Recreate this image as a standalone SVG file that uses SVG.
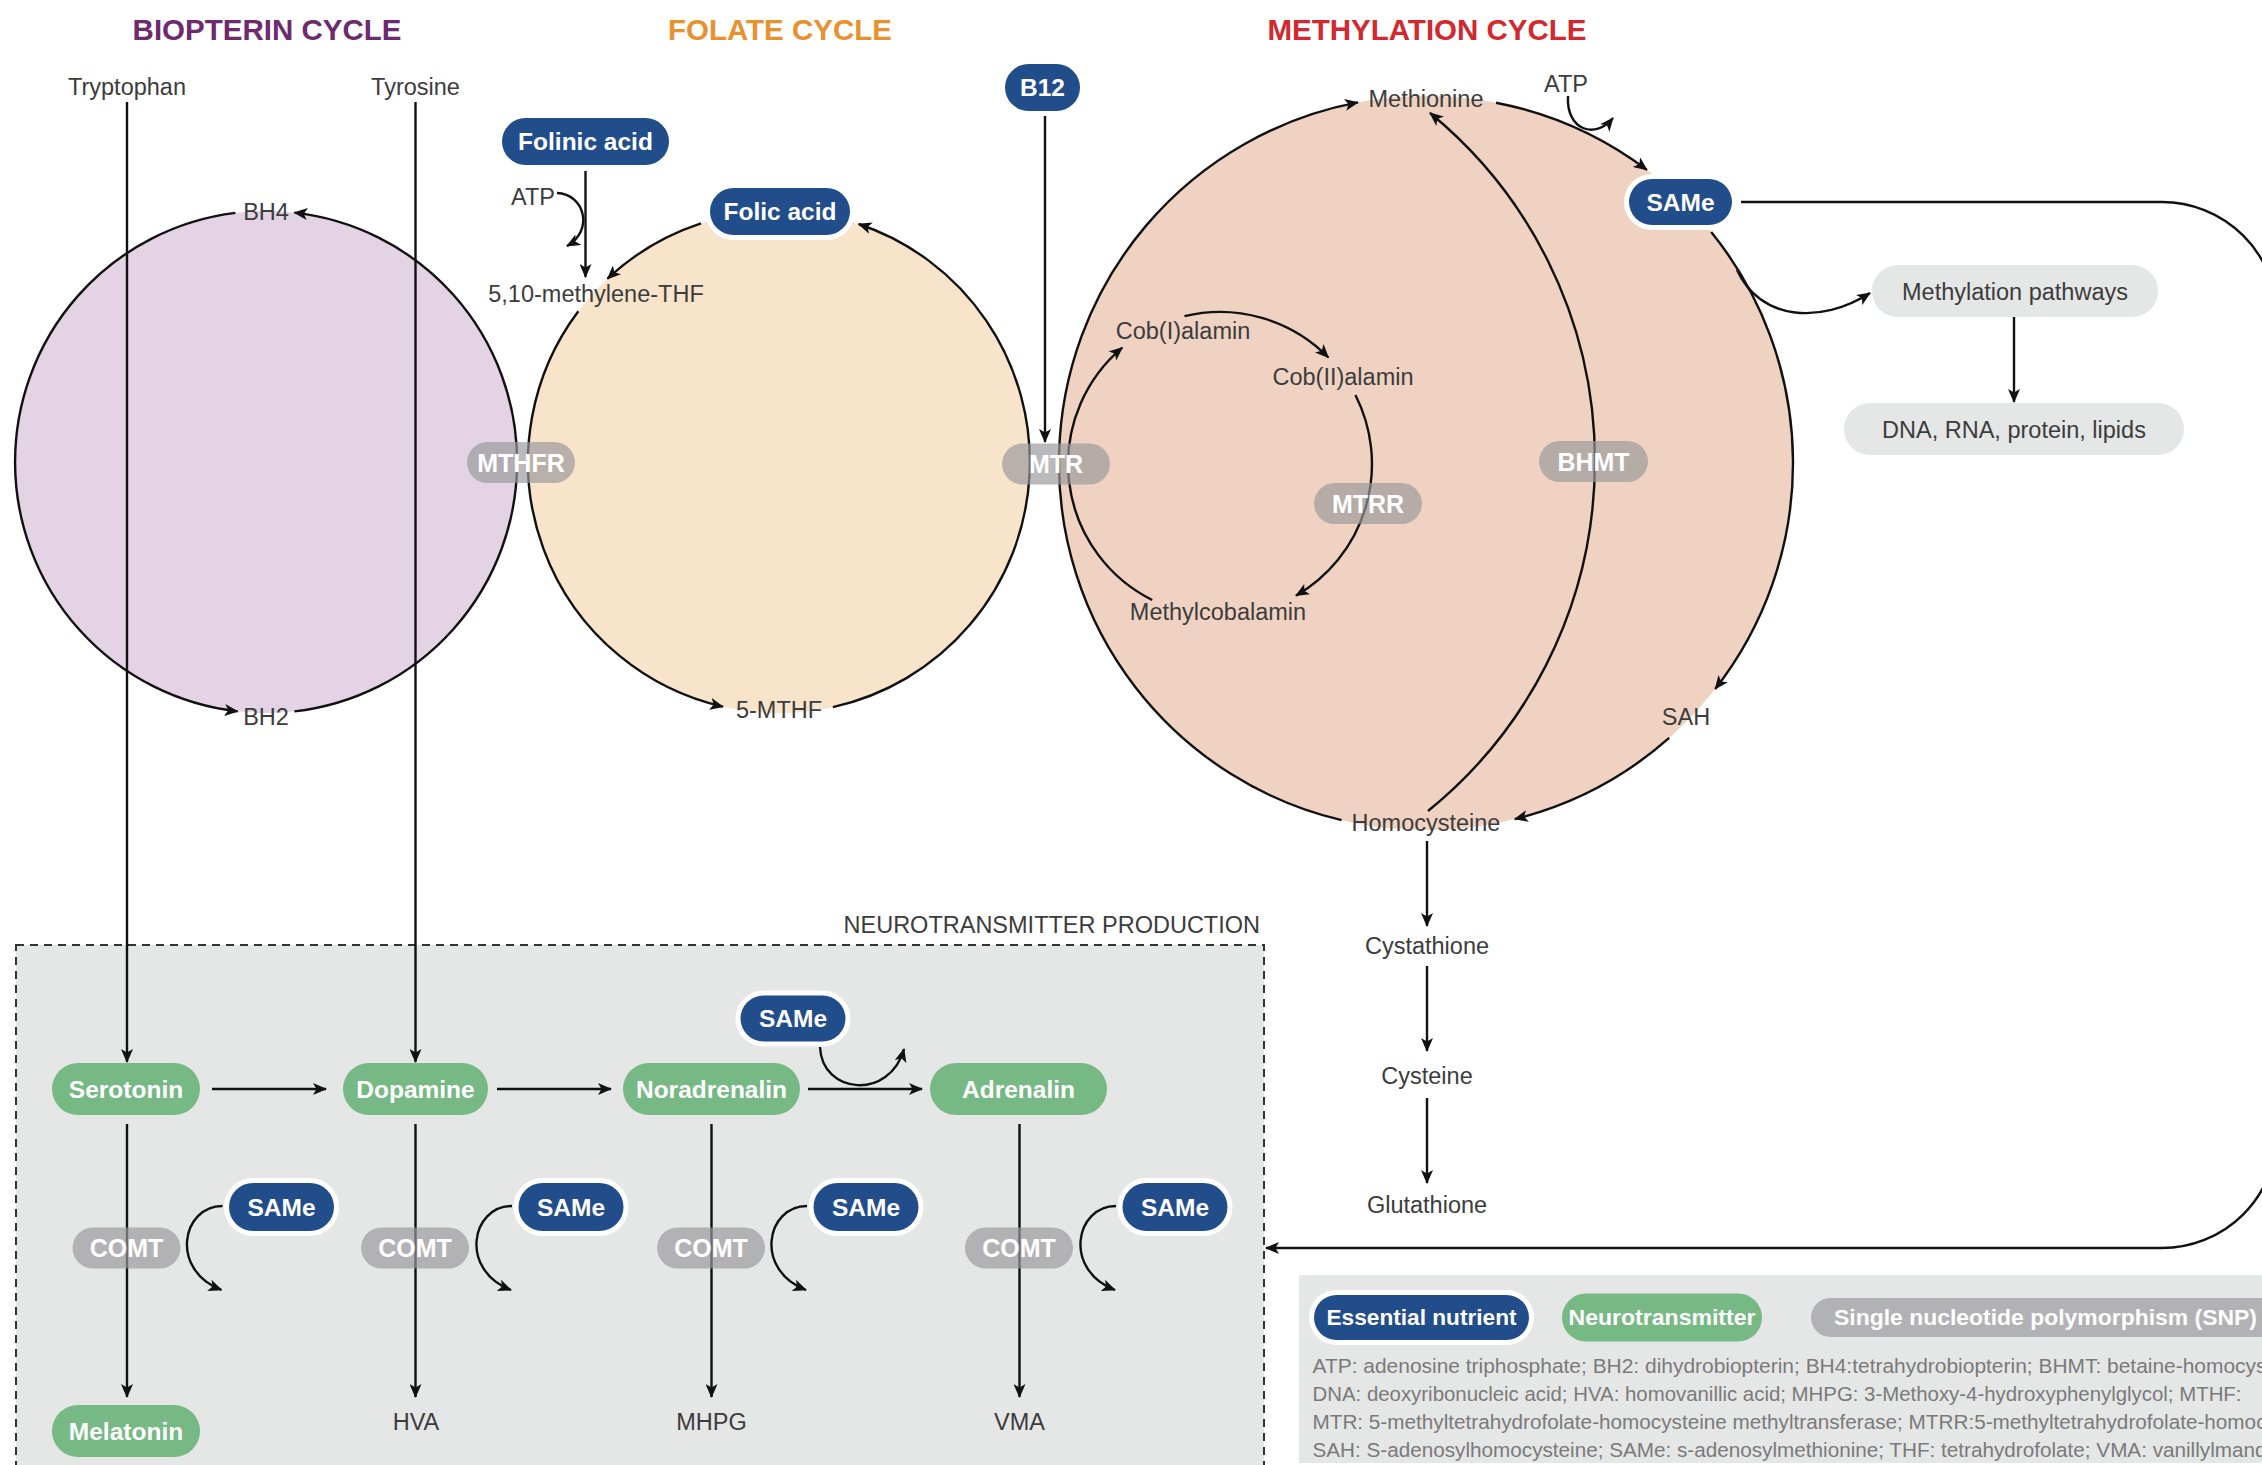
<svg xmlns="http://www.w3.org/2000/svg" width="2262" height="1465" viewBox="0 0 2262 1465">
<style>
text{font-family:"Liberation Sans",Arial,sans-serif}
.title{font-size:29.5px;font-weight:bold;text-anchor:middle}
.lbl{font-size:23.5px;fill:#3c3c3c;text-anchor:middle}
.pt{font-size:24.5px;font-weight:bold;fill:#fff;text-anchor:middle}
.gt{font-size:25px;font-weight:bold;fill:#fff;text-anchor:middle}
.blue{fill:#224d8b;stroke:#fff;stroke-width:10;paint-order:stroke}
.green{fill:#76b984}
.gray{fill:#9a9a9c;opacity:0.68}
.light{fill:#e5e6e6}
.ln{fill:none;stroke:#111;stroke-width:2.4}
.abbr{font-size:20.5px;fill:#7a7a7a}
</style>
<defs>
<marker id="ah" viewBox="0 0 14 12" refX="13" refY="6" markerWidth="14" markerHeight="12" markerUnits="userSpaceOnUse" orient="auto">
<path d="M0,0 L14,6 L0,12 L3.5,6 Z" fill="#111"/>
</marker>
</defs>
<rect width="2262" height="1465" fill="#fff"/>

<g id="titles">
<text class="title" x="267" y="40" fill="#6e2a6f">BIOPTERIN CYCLE</text>
<text class="title" x="780" y="40" fill="#e8912f">FOLATE CYCLE</text>
<text class="title" x="1427" y="40" fill="#d2282e">METHYLATION CYCLE</text>
</g>

<g id="backgrounds">
<circle cx="266" cy="462" r="251" fill="#e3d3e5"/>
<circle cx="779" cy="462" r="251" fill="#f8e4cb"/>
<circle cx="1426" cy="463" r="367" fill="#f0d2c2"/>
<rect x="16" y="945" width="1248" height="540" fill="#e5e6e6" stroke="#333" stroke-width="2" stroke-dasharray="8 6"/>
<rect x="1299" y="1275" width="1000" height="188" fill="#e5e6e6"/>
</g>

<g id="connectors">
<!-- biopterin cycle -->
<path class="ln" d="M235.4 212.9 A251 251 0 0 0 237.6 711.4" marker-end="url(#ah)"/>
<path class="ln" d="M294.4 711.4 A251 251 0 0 0 294.4 212.6" marker-end="url(#ah)"/>
<path class="ln" d="M127 102 V1062" marker-end="url(#ah)"/>
<path class="ln" d="M415.5 102 V1062" marker-end="url(#ah)"/>
<!-- folate cycle -->
<path class="ln" d="M701 223.4 A251 251 0 0 0 607.5 278.7" marker-end="url(#ah)"/>
<path class="ln" d="M578.3 311.3 A251 251 0 0 0 723 706.7" marker-end="url(#ah)"/>
<path class="ln" d="M832.9 707.1 A251 251 0 0 0 858.6 224" marker-end="url(#ah)"/>
<path class="ln" d="M585.5 171 V277" marker-end="url(#ah)"/>
<path class="ln" d="M557 193 C585 194 594 231 567 246" marker-end="url(#ah)"/>
<path class="ln" d="M1045 116 V442" marker-end="url(#ah)"/>
<!-- methylation cycle -->
<path class="ln" d="M1341.6 820.2 A367 367 0 0 1 1357.9 102.4" marker-end="url(#ah)"/>
<path class="ln" d="M1496 102.7 A367 367 0 0 1 1646.9 169.9" marker-end="url(#ah)"/>
<path class="ln" d="M1711.2 232 A367 367 0 0 1 1715.2 688.9" marker-end="url(#ah)"/>
<path class="ln" d="M1669.2 737.9 A367 367 0 0 1 1514.8 819.1" marker-end="url(#ah)"/>
<path class="ln" d="M1428 811 A450 450 0 0 0 1430 113" marker-end="url(#ah)"/>
<path class="ln" d="M1568 96 C1566 130 1595 140 1613 118" marker-end="url(#ah)"/>
<path class="ln" d="M1737 270 C1760 320 1820 325 1870 293" marker-end="url(#ah)"/>
<path class="ln" d="M2014 317 V402" marker-end="url(#ah)"/>
<path class="ln" d="M1741 202 H2162 A115 115 0 0 1 2277 317 V1133 A115 115 0 0 1 2162 1248 H1266" marker-end="url(#ah)"/>
<!-- inner cobalamin cycle -->
<path class="ln" d="M1184.5 316.2 A152 152 0 0 1 1328.4 357.5" marker-end="url(#ah)"/>
<path class="ln" d="M1355.4 395 A152 152 0 0 1 1296 595.6" marker-end="url(#ah)"/>
<path class="ln" d="M1152.2 600 A152 152 0 0 1 1122.3 347.6" marker-end="url(#ah)"/>
<!-- transsulfuration -->
<path class="ln" d="M1427 841 V926" marker-end="url(#ah)"/>
<path class="ln" d="M1427 966 V1051" marker-end="url(#ah)"/>
<path class="ln" d="M1427 1098 V1183" marker-end="url(#ah)"/>
<!-- neurotransmitters -->
<path class="ln" d="M212 1089 H326" marker-end="url(#ah)"/>
<path class="ln" d="M497 1089 H611" marker-end="url(#ah)"/>
<path class="ln" d="M808 1089 H922" marker-end="url(#ah)"/>
<path class="ln" d="M820 1047 C822 1095 890 1100 904 1049" marker-end="url(#ah)"/>
<path class="ln" d="M127 1124 V1397" marker-end="url(#ah)"/>
<path class="ln" d="M415.5 1124 V1397" marker-end="url(#ah)"/>
<path class="ln" d="M711.5 1124 V1397" marker-end="url(#ah)"/>
<path class="ln" d="M1019.5 1124 V1397" marker-end="url(#ah)"/>
<path class="ln" d="M222.5 1206 C181.5 1206 169.5 1270 221.5 1290" marker-end="url(#ah)"/>
<path class="ln" d="M512 1206 C471 1206 459 1270 511 1290" marker-end="url(#ah)"/>
<path class="ln" d="M807 1206 C766 1206 754 1270 806 1290" marker-end="url(#ah)"/>
<path class="ln" d="M1116 1206 C1075 1206 1063 1270 1115 1290" marker-end="url(#ah)"/>
</g>

<g id="node-tryptophan"><text class="lbl" x="127" y="95">Tryptophan</text></g>
<g id="node-tyrosine"><text class="lbl" x="415.5" y="95">Tyrosine</text></g>
<g id="node-bh4"><text class="lbl" x="266" y="220">BH4</text></g>
<g id="node-bh2"><text class="lbl" x="266" y="725">BH2</text></g>
<g id="node-mthfr"><rect class="gray" x="467" y="442" width="108" height="41" rx="20.5"/><text class="gt" x="521" y="471.5">MTHFR</text></g>

<g id="node-folinic"><rect class="blue" x="502" y="118" width="167" height="47" rx="23.5"/><text class="pt" x="585.5" y="150">Folinic acid</text></g>
<g id="node-atp1"><text class="lbl" x="555" y="205" text-anchor="end" style="text-anchor:end">ATP</text></g>
<g id="node-methylene-thf"><text class="lbl" x="596" y="302">5,10-methylene-THF</text></g>
<g id="node-folic"><rect class="blue" x="710" y="188" width="140" height="47" rx="23.5"/><text class="pt" x="780" y="220">Folic acid</text></g>
<g id="node-5mthf"><text class="lbl" x="779" y="718">5-MTHF</text></g>
<g id="node-b12"><rect class="blue" x="1005" y="64" width="75" height="47" rx="23.5"/><text class="pt" x="1042.5" y="96">B12</text></g>
<g id="node-mtr"><rect class="gray" x="1002" y="443.5" width="108" height="41" rx="20.5"/><text class="gt" x="1056" y="473">MTR</text></g>

<g id="node-methionine"><text class="lbl" x="1426" y="107">Methionine</text></g>
<g id="node-atp2"><text class="lbl" x="1566" y="92">ATP</text></g>
<g id="node-same-top"><rect class="blue" x="1629" y="179" width="103" height="46" rx="23"/><text class="pt" x="1680.5" y="210.5">SAMe</text></g>
<g id="node-methylation-pathways"><rect class="light" x="1872" y="265" width="286" height="52" rx="26"/><text class="lbl" x="2015" y="299.5">Methylation pathways</text></g>
<g id="node-dna"><rect class="light" x="1844" y="403" width="340" height="52" rx="26"/><text class="lbl" x="2014" y="437.5">DNA, RNA, protein, lipids</text></g>
<g id="node-cob1"><text class="lbl" x="1183" y="339">Cob(I)alamin</text></g>
<g id="node-cob2"><text class="lbl" x="1343" y="385">Cob(II)alamin</text></g>
<g id="node-methylcobalamin"><text class="lbl" x="1218" y="620">Methylcobalamin</text></g>
<g id="node-mtrr"><rect class="gray" x="1314" y="483" width="108" height="41" rx="20.5"/><text class="gt" x="1368" y="512.5">MTRR</text></g>
<g id="node-bhmt"><rect class="gray" x="1539" y="441" width="109" height="41" rx="20.5"/><text class="gt" x="1593.5" y="470.5">BHMT</text></g>
<g id="node-sah"><text class="lbl" x="1686" y="725">SAH</text></g>
<g id="node-homocysteine"><text class="lbl" x="1426" y="831">Homocysteine</text></g>
<g id="node-cystathione"><text class="lbl" x="1427" y="954">Cystathione</text></g>
<g id="node-cysteine"><text class="lbl" x="1427" y="1084">Cysteine</text></g>
<g id="node-glutathione"><text class="lbl" x="1427" y="1213">Glutathione</text></g>

<g id="node-neuro-title"><text class="lbl" x="1260" y="933" style="text-anchor:end">NEUROTRANSMITTER PRODUCTION</text></g>
<g id="node-serotonin"><rect class="green" x="52" y="1063" width="148" height="52" rx="26"/><text class="pt" x="126" y="1097.5">Serotonin</text></g>
<g id="node-dopamine"><rect class="green" x="343" y="1063" width="145" height="52" rx="26"/><text class="pt" x="415.5" y="1097.5">Dopamine</text></g>
<g id="node-noradrenalin"><rect class="green" x="623" y="1063" width="177" height="52" rx="26"/><text class="pt" x="711.5" y="1097.5">Noradrenalin</text></g>
<g id="node-adrenalin"><rect class="green" x="930" y="1063" width="177" height="52" rx="26"/><text class="pt" x="1018.5" y="1097.5">Adrenalin</text></g>
<g id="node-same-neuro"><rect class="blue" x="740.5" y="995.5" width="105" height="46" rx="23"/><text class="pt" x="793" y="1027">SAMe</text></g>
<g id="node-melatonin"><rect class="green" x="52" y="1405" width="148" height="52" rx="26"/><text class="pt" x="126" y="1439.5">Melatonin</text></g>
<g id="node-hva"><text class="lbl" x="416" y="1430">HVA</text></g>
<g id="node-mhpg"><text class="lbl" x="711.5" y="1430">MHPG</text></g>
<g id="node-vma"><text class="lbl" x="1019.5" y="1430">VMA</text></g>
<g id="node-comt1"><rect class="gray" x="72.5" y="1227.5" width="108" height="41" rx="20.5"/><text class="gt" x="126.5" y="1257">COMT</text></g>
<g id="node-comt2"><rect class="gray" x="361" y="1227.5" width="108" height="41" rx="20.5"/><text class="gt" x="415" y="1257">COMT</text></g>
<g id="node-comt3"><rect class="gray" x="657" y="1227.5" width="108" height="41" rx="20.5"/><text class="gt" x="711" y="1257">COMT</text></g>
<g id="node-comt4"><rect class="gray" x="965" y="1227.5" width="108" height="41" rx="20.5"/><text class="gt" x="1019" y="1257">COMT</text></g>
<g id="node-same1"><rect class="blue" x="229" y="1183" width="105" height="48" rx="24"/><text class="pt" x="281.5" y="1215.5">SAMe</text></g>
<g id="node-same2"><rect class="blue" x="518.5" y="1183" width="105" height="48" rx="24"/><text class="pt" x="571" y="1215.5">SAMe</text></g>
<g id="node-same3"><rect class="blue" x="813.5" y="1183" width="105" height="48" rx="24"/><text class="pt" x="866" y="1215.5">SAMe</text></g>
<g id="node-same4"><rect class="blue" x="1122.5" y="1183" width="105" height="48" rx="24"/><text class="pt" x="1175" y="1215.5">SAMe</text></g>

<g id="legend">
<rect class="blue" x="1314" y="1295" width="215" height="45" rx="22.5"/>
<text class="pt" x="1421.5" y="1325" style="font-size:22px" textLength="190" lengthAdjust="spacingAndGlyphs">Essential nutrient</text>
<rect class="green" x="1562" y="1293.5" width="200" height="48" rx="24"/>
<text class="pt" x="1662" y="1325" style="font-size:22px" textLength="187" lengthAdjust="spacingAndGlyphs">Neurotransmitter</text>
<rect class="gray" x="1811" y="1298" width="500" height="39" rx="19.5"/>
<text class="pt" x="1834" y="1325" style="font-size:22px;text-anchor:start" textLength="423" lengthAdjust="spacingAndGlyphs">Single nucleotide polymorphism (SNP)</text>
<text class="abbr" x="1312.5" y="1373" textLength="954" lengthAdjust="spacingAndGlyphs">ATP: adenosine triphosphate; BH2: dihydrobiopterin; BH4:tetrahydrobiopterin; BHMT: betaine-homocys</text>
<text class="abbr" x="1312.5" y="1401" textLength="929" lengthAdjust="spacingAndGlyphs">DNA: deoxyribonucleic acid; HVA: homovanillic acid; MHPG: 3-Methoxy-4-hydroxyphenylglycol; MTHF:</text>
<text class="abbr" x="1312.5" y="1429" textLength="954" lengthAdjust="spacingAndGlyphs">MTR: 5-methyltetrahydrofolate-homocysteine methyltransferase; MTRR:5-methyltetrahydrofolate-homoc</text>
<text class="abbr" x="1312.5" y="1457" textLength="954" lengthAdjust="spacingAndGlyphs">SAH: S-adenosylhomocysteine; SAMe: s-adenosylmethionine; THF: tetrahydrofolate; VMA: vanillylmand</text>
</g>
</svg>
